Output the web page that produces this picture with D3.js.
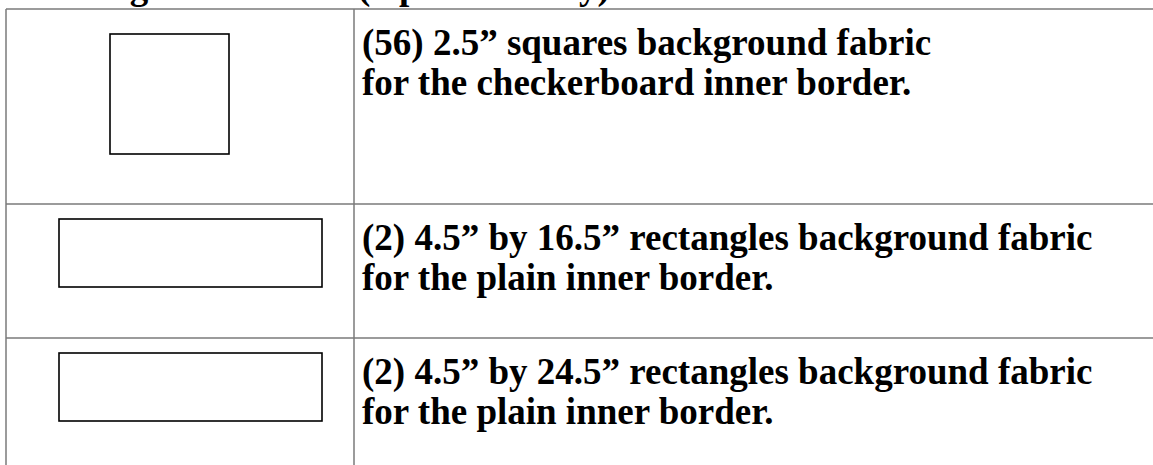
<!DOCTYPE html>
<meta charset="utf-8">
<head>
    <title>Cutting Instructions</title>
    <script src="https://cdn.jsdelivr.net/npm/d3@7/dist/d3.min.js"></script>
</head>

<style>
    body { margin: 0; background: #fff; }
    svg { display: block; }
    text { font-family: "Liberation Serif", "Times New Roman", serif; font-weight: bold; fill: #000; }
    .grid { stroke: #7a7a7a; stroke-width: 1.5px; fill: none; }
    .piece { stroke: #000; stroke-width: 1.6px; fill: #fff; }
</style>
<svg></svg>

<script>
    var vWidth = 1153;
    var vHeight = 465;

    var vTitle = "Cutting Instructions (Optional Only):";
    // one entry per table row
    var vRows = ["squares", "rect16", "rect24"];
    var vLine1 = ["(56) 2.5\u201d squares background fabric",
        "(2) 4.5\u201d by 16.5\u201d rectangles background fabric",
        "(2) 4.5\u201d by 24.5\u201d rectangles background fabric"];
    var vLine2 = ["for the checkerboard inner border.",
        "for the plain inner border.",
        "for the plain inner border."];
    var vShape = ["square", "rect", "rect"];

    var svg = d3.select('svg').attr('width', vWidth).attr('height', vHeight);

    // table frame
    var vLeft = 6, vSplit = 354, vTop = 9;
    var vRowEdges = [9, 204, 338, 472];
    var y = d3.scaleOrdinal().domain(vRows).range(vRowEdges.slice(0, 3));

    // title sits mostly above the visible area
    svg.append('text').attr('x', 27).attr('y', -1)
        .style('font-size', '37px').text(vTitle);

    var g = svg.append('g');

    // horizontal rules
    g.selectAll('line.h').data(vRows).enter().append('line')
        .attr('class', 'grid h')
        .attr('x1', vLeft).attr('x2', vWidth)
        .attr('y1', function (d) { return y(d); })
        .attr('y2', function (d) { return y(d); });

    // vertical rules
    g.selectAll('line.v').data([vLeft, vSplit]).enter().append('line')
        .attr('class', 'grid v')
        .attr('x1', function (d) { return d; }).attr('x2', function (d) { return d; })
        .attr('y1', vTop).attr('y2', vHeight);

    // piece sketches
    g.selectAll('rect.piece').data(vRows).enter().append('rect')
        .attr('class', 'piece')
        .attr('x', function (d, i) { return vShape[i] == 'square' ? 110 : 59; })
        .attr('y', function (d, i) { return y(d) + (vShape[i] == 'square' ? 25 : 15); })
        .attr('width', function (d, i) { return vShape[i] == 'square' ? 119 : 263; })
        .attr('height', function (d, i) { return vShape[i] == 'square' ? 120 : 68; });

    // descriptions
    var vText = g.selectAll('text.desc').data(vRows).enter().append('text')
        .attr('class', 'desc')
        .style('font-size', '37px')
        .attr('x', 362)
        .attr('y', function (d) { return y(d) + 46; });
    vText.append('tspan').text(function (d, i) { return vLine1[i]; });
    vText.append('tspan').attr('x', 362).attr('dy', 40).text(function (d, i) { return vLine2[i]; });
</script>
